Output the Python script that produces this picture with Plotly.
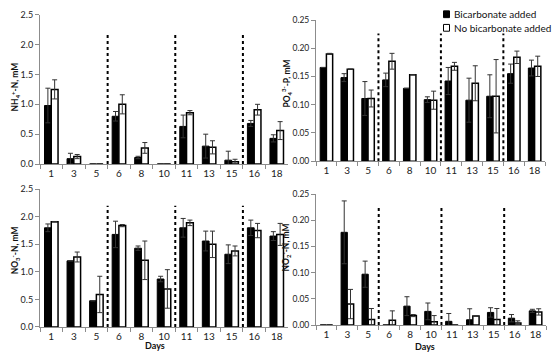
import plotly.graph_objects as go

days = ["1", "3", "5", "6", "8", "10", "11", "13", "15", "16", "18"]

nh4_bic = [0.98, 0.09, 0.0, 0.80, 0.11, 0.0, 0.63, 0.30, 0.065, 0.68, 0.43]
nh4_bic_err = [0.29, 0.09, 0.0, 0.08, 0.02, 0.0, 0.19, 0.20, 0.15, 0.05, 0.06]
nh4_no = [1.25, 0.125, 0.0, 1.0, 0.27, 0.0, 0.86, 0.28, 0.04, 0.91, 0.56]
nh4_no_err = [0.16, 0.035, 0.0, 0.16, 0.09, 0.0, 0.035, 0.11, 0.04, 0.09, 0.15]

po4_bic = [0.166, 0.148, 0.111, 0.144, 0.129, 0.109, 0.142, 0.108, 0.115, 0.155, 0.165]
po4_bic_err = [0.0, 0.007, 0.03, 0.012, 0.0, 0.005, 0.024, 0.039, 0.038, 0.017, 0.014]
po4_no = [0.190, 0.163, 0.111, 0.177, 0.153, 0.108, 0.168, 0.138, 0.115, 0.184, 0.168]
po4_no_err = [0.001, 0.0, 0.015, 0.014, 0.0, 0.016, 0.007, 0.031, 0.065, 0.011, 0.018]

no3_bic = [1.80, 1.20, 0.475, 1.68, 1.43, 0.87, 1.80, 1.56, 1.32, 1.80, 1.65]
no3_bic_err = [0.07, 0.0, 0.0, 0.24, 0.04, 0.05, 0.17, 0.18, 0.17, 0.14, 0.08]
no3_no = [1.91, 1.27, 0.59, 1.84, 1.21, 0.69, 1.89, 1.50, 1.38, 1.75, 1.68]
no3_no_err = [0.005, 0.09, 0.33, 0.02, 0.35, 0.35, 0.05, 0.24, 0.09, 0.13, 0.20]

no2_bic = [0.0, 0.177, 0.097, 0.0, 0.036, 0.026, 0.007, 0.010, 0.024, 0.013, 0.027]
no2_bic_err = [0.0, 0.060, 0.025, 0.0, 0.018, 0.016, 0.015, 0.021, 0.009, 0.007, 0.003]
no2_no = [0.0, 0.040, 0.0105, 0.009, 0.018, 0.006, 0.0, 0.017, 0.0105, 0.004, 0.025]
no2_no_err = [0.0, 0.028, 0.021, 0.018, 0.002, 0.012, 0.0, 0.0, 0.021, 0.004, 0.006]

y_titles = ["<b>NH<sub>4</sub><sup>+</sup>-N, mM</b>", "<b>PO<sub>4</sub><sup>3-</sup>-P, mM</b>",
            "<b>NO<sub>3</sub><sup>-</sup>-N, mM</b>", "<b>NO<sub>2</sub><sup>-</sup>-N, mM</b>"]
series_names = ["Bicarbonate added", "No bicarbonate added"]

W, H = 554, 362
FONT = "Lato"

def px(x):
    return x / W

def py(y):
    return 1 - y / H

panels = [
    dict(x=(40, 288), y=(9, 163), rng=2.5, dtick=0.5, fmt=".1f", sep=2.17, yfs=9,
         bic=nh4_bic, bic_err=nh4_bic_err, no=nh4_no, no_err=nh4_no_err, title=(15, 84), days=None),
    dict(x=(316, 545), y=(14.5, 160), rng=0.25, dtick=0.05, fmt=".2f", sep=0.226, yfs=8.5,
         bic=po4_bic, bic_err=po4_bic_err, no=po4_no, no_err=po4_no_err, title=(286, 80), days=None),
    dict(x=(40, 288), y=(189, 331), rng=2.5, dtick=0.5, fmt=".1f", sep=2.2, yfs=9,
         bic=no3_bic, bic_err=no3_bic_err, no=no3_no, no_err=no3_no_err, title=(15, 252), days=(155, 350)),
    dict(x=(316, 546), y=(194, 329), rng=0.25, dtick=0.05, fmt=".2f", sep=0.228, yfs=8.5,
         bic=no2_bic, bic_err=no2_bic_err, no=no2_no, no_err=no2_no_err, title=(286, 249), days=(425, 351)),
]

fig = go.Figure()
layout = dict(
    width=W, height=H, margin=dict(l=0, r=0, t=0, b=0),
    paper_bgcolor="white", plot_bgcolor="white",
    barmode="group", bargap=0.4, bargroupgap=0.0,
    font=dict(family=FONT, size=10, color="#222"),
    showlegend=False,
)
shapes = []
annotations = []

for i, p in enumerate(panels):
    n = i + 1
    xa = "x" if n == 1 else f"x{n}"
    ya = "y" if n == 1 else f"y{n}"
    fig.add_trace(go.Bar(
        x=days, y=p["bic"], name=series_names[0], xaxis=xa, yaxis=ya,
        marker=dict(color="black", line=dict(color="black", width=1)),
        error_y=dict(type="data", array=p["bic_err"], color="#333", thickness=1, width=2.5)))
    fig.add_trace(go.Bar(
        x=days, y=p["no"], name=series_names[1], xaxis=xa, yaxis=ya,
        marker=dict(color="white", line=dict(color="black", width=1.5)),
        error_y=dict(type="data", array=p["no_err"], color="#333", thickness=1, width=2.5)))
    xkey = "xaxis" if n == 1 else f"xaxis{n}"
    ykey = "yaxis" if n == 1 else f"yaxis{n}"
    layout[xkey] = dict(
        domain=[px(p["x"][0]), px(p["x"][1])], anchor=ya, type="category",
        range=[-0.5, 10.5], showline=True, linecolor="#8c8c8c", linewidth=1,
        ticks="outside", tickson="boundaries", ticklen=4, tickcolor="#8c8c8c",
        tickangle=0, showgrid=False, zeroline=False,
        tickfont=dict(family=FONT, size=10, color="#222"), fixedrange=True)
    layout[ykey] = dict(
        domain=[py(p["y"][1]), py(p["y"][0])], anchor=xa,
        range=[0, p["rng"]], dtick=p["dtick"], tick0=0, tickformat=p["fmt"],
        showline=True, linecolor="#8c8c8c", linewidth=1, ticks="outside", ticklen=4,
        tickcolor="#8c8c8c", showgrid=False, zeroline=False,
        tickfont=dict(family=FONT, size=p["yfs"], color="#222"), fixedrange=True)
    for sx in (2.5, 5.5, 8.5):
        shapes.append(dict(type="line", xref=xa, yref=ya, x0=sx, x1=sx, y0=0, y1=p["sep"],
                           line=dict(color="black", width=2, dash="dot")))
    annotations.append(dict(text=y_titles[i], xref="paper", yref="paper",
                            x=px(p["title"][0]), y=py(p["title"][1]), textangle=-90,
                            showarrow=False, xanchor="center", yanchor="middle",
                            font=dict(family=FONT, size=8.5, color="#111")))
    if p["days"]:
        annotations.append(dict(text="<b>Days</b>", xref="paper", yref="paper",
                                x=px(p["days"][0]), y=py(p["days"][1]), showarrow=False,
                                xanchor="center", yanchor="middle",
                                font=dict(family=FONT, size=9, color="#111")))

# legend (manual, compact swatches like the reference)
legend_rows = [(8.5, "black", series_names[0]), (22.5, "white", series_names[1])]
for yc, fill, label in legend_rows:
    shapes.append(dict(type="rect", xref="paper", yref="paper",
                       x0=px(443.5), x1=px(449.5), y0=py(yc + 3.5), y1=py(yc - 3.5),
                       fillcolor=fill, line=dict(color="black", width=1)))
    annotations.append(dict(text=label, xref="paper", yref="paper",
                            x=px(452), y=py(yc), showarrow=False,
                            xanchor="left", yanchor="middle",
                            font=dict(family=FONT, size=10, color="#111")))

layout["shapes"] = shapes
layout["annotations"] = annotations
fig.update_layout(**layout)
fig.write_html("out.html", config={"displayModeBar": False},
               post_script="document.body.style.margin='0';document.body.style.overflow='hidden';")
